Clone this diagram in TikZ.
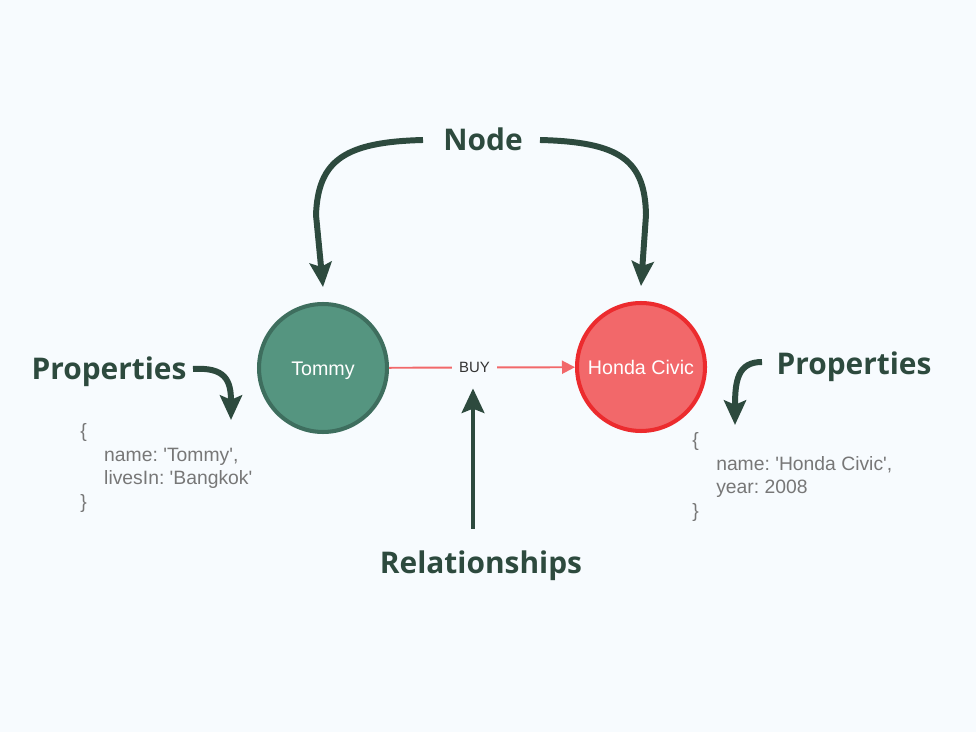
\documentclass[tikz,border=0pt]{standalone}
\usepackage{fontspec}
\setmainfont{Liberation Sans}
\newfontfamily\labelfont{Open Sans}
\usetikzlibrary{arrows.meta}
\usetikzlibrary{calc}

\definecolor{bgcol}{HTML}{F7FBFE}
\definecolor{darkgreen}{HTML}{2D4A3E}
\definecolor{tommyfill}{HTML}{559580}
\definecolor{tommyline}{HTML}{3E6E5E}
\definecolor{hondafill}{HTML}{F2686A}
\definecolor{hondaline}{HTML}{EC2B2E}
\definecolor{proptext}{HTML}{777777}

\newcommand{\sq}{\textquotesingle}

\tikzset{
  graphnode/.style={circle, inner sep=0pt, minimum size=2.56cm, line width=2.3pt,
    text=white, text height=8pt, text depth=0pt, font=\fontsize{11.2}{13}\selectfont},
  biglabel/.style={text=darkgreen, inner sep=0pt, font=\labelfont\bfseries\fontsize{17}{20}\selectfont},
  props/.style={text=proptext, align=left, inner sep=0pt, font=\fontsize{11}{13.6}\selectfont\frenchspacing},
  callout/.style={darkgreen, line width=3.4pt, -{Stealth[length=14pt, width=12.5pt, inset=2.5pt]}},
}

\begin{document}
\begin{tikzpicture}[x=0.02cm, y=-0.02cm]
        \fill[bgcol] (0,0) rectangle (976,732);
        \useasboundingbox (0,0) rectangle (976,732);

        % the two nodes and their relationship
        \node[graphnode, draw=tommyline, fill=tommyfill] (tommy) at (323,368) {Tommy};
        \node[graphnode, draw=hondaline, fill=hondafill] (honda) at (641,367) {Honda Civic};
        \draw [hondafill, line width=1.1pt, -{Triangle[length=7.4pt, width=7.4pt]}] (tommy) -- (honda)
            node[pos=0.46, fill=bgcol, inner xsep=4pt, inner ysep=1pt, text=black!80, font=\fontsize{8.5}{10}\selectfont] (buy) {BUY};

        % labels
        \node[biglabel] (nodelbl) at (483,139) {Node};
        \node[biglabel] (propsleft) at (109,372) {Properties};
        \node[biglabel] (propsright) at (854,367) {Properties};
        \node[biglabel] (rellbl) at (481,566) {Relationships};

        % property lists
        \node[props, anchor=west] (tommyprops) at (80,468)
            {\{\\\hspace*{13.6pt}name: \sq Tommy\sq,\\\hspace*{13.6pt}livesIn: \sq Bangkok\sq\\\}};
        \node[props, anchor=west] (hondaprops) at (692,477)
            {\{\\\hspace*{13.6pt}name: \sq Honda Civic\sq,\\\hspace*{13.6pt}year: 2008\\\}};

        % arrows
        \coordinate (nodeL) at (423,140);
        \coordinate (nodeR) at (540,140);
        \draw [callout] (nodeL) .. controls (345,142) and (318,160) .. (316,215) -- ([yshift=8.5pt]tommy.north);
        \draw [callout] (nodeR) .. controls (620,142) and (645,160) .. (646,215) -- ([yshift=8.5pt]honda.north);

        \coordinate (propL) at (193,369);
        \coordinate (propR) at (762,362);
        \draw [callout] (propL) .. controls (225,367) and (231,380) .. (231,420);
        \draw [callout] (propR) .. controls (738,362) and (735,380) .. (735,425);

        \coordinate (relstart) at ($(rellbl.north)+(-8,-22)$);
        \draw [darkgreen, line width=2pt, -{Stealth[length=14pt, width=13pt, inset=2.5pt]}] (relstart) -- (relstart |- {$(buy.south)+(0,13)$});
    \end{tikzpicture}
\end{document}
